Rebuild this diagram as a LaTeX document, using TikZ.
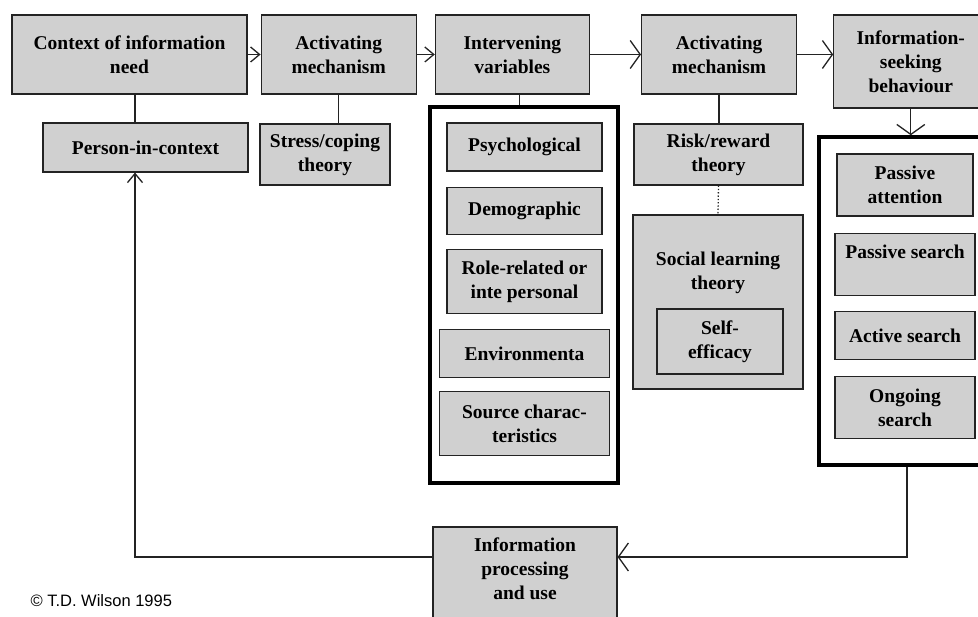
\documentclass[tikz,border=0pt]{standalone}
\usepackage{fontspec}
\setmainfont{Liberation Serif}
\newfontfamily\notefont{Liberation Sans}
\usetikzlibrary{positioning, arrows.meta}
\definecolor{boxgray}{RGB}{208,208,208}
\definecolor{boxline}{RGB}{35,35,35}

\begin{document}
\begin{tikzpicture}[
		x=1pt, y=1pt,
		boxtext/.style = {
			align=center,
			inner sep=2pt,
			font=\fontsize{19.5pt}{24pt}\selectfont\bfseries   % Letra negrita tipo Times
		},
		box/.style = {
			boxtext,
			rectangle,
			draw=boxline,
			line width=1.2pt,
			fill=boxgray
		},
		frame/.style = {rectangle, draw=black, line width=3.5pt, fill=white},
		link/.style = {draw=boxline, line width=1.3pt},
		flow/.style = {link, -{Straight Barb[length=10pt,width=28pt]}},
		flowsmall/.style = {link, -{Straight Barb[length=9pt,width=15pt]}}
		]
		
		\useasboundingbox (0,0) rectangle (978,-617);
		\clip (0,0) rectangle (978,-617);
		
		% Fila superior
		\node[box, minimum width=235pt, minimum height=79pt] (context) at (129.5,-54.5)
		{Context of information\\need};
		\node[box, minimum width=155pt, minimum height=79pt, right=13pt of context] (activating)
		{Activating\\mechanism};
		\node[box, minimum width=154pt, minimum height=79pt, right=18pt of activating] (intervening)
		{Intervening\\variables};
		\node[box, minimum width=155pt, minimum height=79pt, right=51pt of intervening] (activatingtwo)
		{Activating\\mechanism};
		\node[box, minimum width=154pt, minimum height=93pt, anchor=north west] (seeking)
		at ([xshift=36pt]activatingtwo.north east)
		{Information-\\seeking\\behaviour};
		
		% Columna 1 y 2
		\node[box, minimum width=205pt, minimum height=49pt] (person) at (145.5,-147.5)
		{Person-in-context};
		\node[box, minimum width=130pt, minimum height=61pt] (stress) at (325,-154.5)
		{Stress/coping\\theory};
		
		% Variables intervinientes
		\node[frame, minimum width=188pt, minimum height=376pt] (ivframe) at (524,-295) {};
		\node[box, minimum width=155pt, minimum height=48pt] (psych) at (524.5,-147)
		{Psychological};
		\node[box, minimum width=155pt, minimum height=47pt, below=15pt of psych] (demo)
		{Demographic};
		\node[box, minimum width=155pt, minimum height=64pt, below=14pt of demo] (role)
		{Role-related or\\inte personal};
		\node[box, minimum width=170pt, minimum height=48pt, below=15pt of role] (envi)
		{Environmenta};
		\node[box, minimum width=170pt, minimum height=64pt, below=13pt of envi] (source)
		{Source charac-\\teristics};
		
		% Mecanismo activador 2
		\node[box, minimum width=169pt, minimum height=61pt] (risk) at (718.5,-154.5)
		{Risk/reward\\theory};
		\node[box, minimum width=170pt, minimum height=174pt] (social) at (718,-302) {};
		\node[boxtext] (socialtext) at (718,-272.5) {Social learning\\theory};
		\node[box, line width=2.2pt, minimum width=126pt, minimum height=65pt] (selfeff) at (720,-341.5)
		{Self-\\efficacy};
		
		% Comportamiento de busqueda
		\node[frame, minimum width=176pt, minimum height=328pt] (seekframe) at (907,-301) {};
		\node[box, minimum width=136pt, minimum height=62pt] (attention) at (905,-185)
		{Passive\\attention};
		\node[box, minimum width=140pt, minimum height=62pt, below=16pt of attention] (passive)
		{Passive search\\~};
		\node[box, minimum width=140pt, minimum height=48pt, below=15pt of passive] (active)
		{Active search};
		\node[box, minimum width=140pt, minimum height=62pt, below=16pt of active] (ongoing)
		{Ongoing\\search};
		
		% Procesamiento
		\node[box, minimum width=184pt, minimum height=107pt] (processing) at (525,-580.5)
		{Information\\processing\\and use\\~};
		
		\node[font=\notefont\fontsize{16.5pt}{18pt}\selectfont, anchor=west] (credit) at (27,-601)
		{© T.D. Wilson 1995};
		
		% Conectores
		\coordinate (loopup) at ([xshift=-10.5pt]person.south);
		\coordinate (loopin) at ([yshift=23.5pt]processing.east);
		
		\draw[flowsmall] (context) -- (activating);
		\draw[flowsmall] (activating) -- (intervening);
		\draw[flow] (intervening) -- (activatingtwo);
		\draw[flow] (activatingtwo.east) -- (activatingtwo.east -| seeking.west);
		
		\draw[link] (loopup |- context.south) -- (loopup |- person.north);
		\draw[link] (activating.south) -- (activating.south |- stress.north);
		\draw[link] ([xshift=7pt]intervening.south) -- ([xshift=7pt]intervening.south |- ivframe.north);
		\draw[link] (activatingtwo.south) -- (activatingtwo.south |- risk.north);
		\draw[link, dotted] (risk.south) -- (social.north);
		\draw[flow] (seeking.south) -- (seeking.south |- seekframe.north);
		
		\draw[flow] (seekframe.south) |- (loopin);
		\draw[flowsmall] ([yshift=23.5pt]processing.west) -| (loopup);
		
	\end{tikzpicture}
\end{document}
